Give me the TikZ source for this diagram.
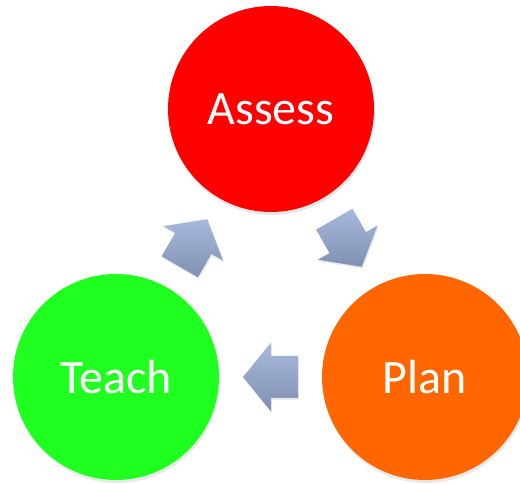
\documentclass[tikz,border=0pt]{standalone}
\usepackage{fontspec}
\setmainfont{Carlito}
\usetikzlibrary{shadows,calc}
\definecolor{assessred}{RGB}{255,0,0}
\definecolor{teachgreen}{RGB}{31,255,32}
\definecolor{planorange}{RGB}{255,102,0}
\definecolor{arrowtop}{RGB}{168,185,221}
\definecolor{arrowbottom}{RGB}{128,144,178}
\begin{document}
\begin{tikzpicture}[x=1pt,y=1pt,
    stage/.style={circle,minimum size=206pt,inner sep=0pt,text=white,
      font=\fontsize{48}{58}\selectfont,
      drop shadow={opacity=0.18,shadow xshift=1pt,shadow yshift=-3pt}},
    cyclearrow/.style={top color=arrowtop,bottom color=arrowbottom,
      drop shadow={opacity=0.15,shadow xshift=1pt,shadow yshift=-2pt}}]
  \useasboundingbox (0,0) rectangle (520,484);
  \node[stage,fill=assessred] (assess) at (271,375) {Assess};
  \node[stage,fill=teachgreen] (teach) at (116,107) {Teach};
  \node[stage,fill=planorange] (plan) at (425,107) {Plan};
  \foreach \src/\dst/\name in {assess/plan/ap,plan/teach/pt,teach/assess/ta}{
    \coordinate (\name) at ($(\src)!0.5!(\dst)$);
    \coordinate (\name-tail) at ($(\name)!-27.5pt!(\dst)$);
    \coordinate (\name-neck) at ($(\name)!-0.5pt!(\dst)$);
    \coordinate (\name-tip) at ($(\name)!27.5pt!(\dst)$);
    \shade[cyclearrow] ($(\name-tail)!21pt!90:(\dst)$) -- ($(\name-neck)!21pt!90:(\dst)$)
      -- ($(\name-neck)!34.5pt!90:(\dst)$) -- (\name-tip)
      -- ($(\name-neck)!34.5pt!-90:(\dst)$) -- ($(\name-neck)!21pt!-90:(\dst)$)
      -- ($(\name-tail)!21pt!-90:(\dst)$) -- cycle;
  }
\end{tikzpicture}
\end{document}
